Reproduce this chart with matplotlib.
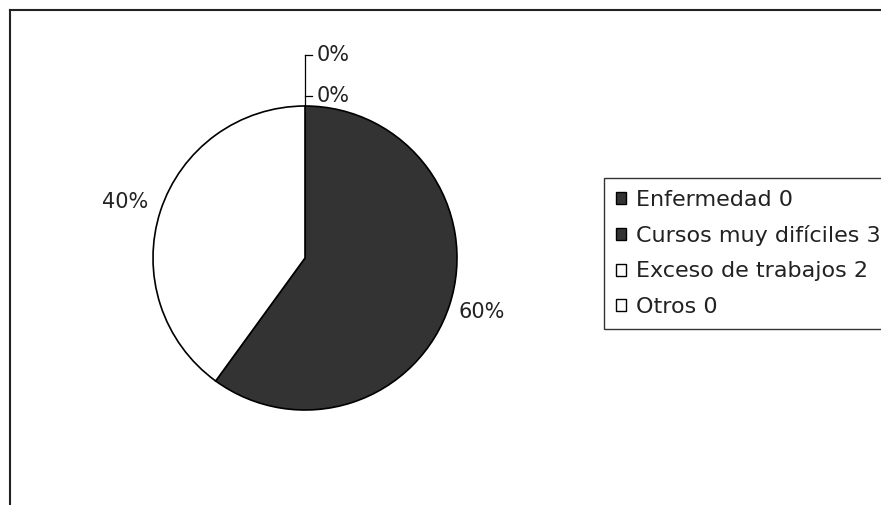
import matplotlib.pyplot as plt
from matplotlib.patches import Patch

plt.rcParams['font.family'] = ['DejaVu Sans']

categorias = ['Enfermedad', 'Cursos muy difíciles', 'Exceso de trabajos', 'Otros']
valores = [0, 3, 2, 0]
colores = ['#333333', '#333333', 'white', 'white']

total = sum(valores)
pct = [v / total * 100 for v in valores]

fig = plt.figure(figsize=(8.81, 5.05), dpi=100)
ax = fig.add_axes([0, 0, 1, 1])

# outer chart frame (only top and left visible in the scan)
ax.plot([10, 10], [0, 495], color='#222222', lw=1.5)
ax.plot([10, 881], [495, 495], color='#222222', lw=1.5)

cx, cy, r = 305, 247, 152
nz = [i for i, v in enumerate(valores) if v > 0]
ax.pie([valores[i] for i in nz], colors=[colores[i] for i in nz],
       startangle=90, counterclock=False, center=(cx, cy), radius=r,
       wedgeprops=dict(edgecolor='black', linewidth=1.2), frame=True)
ax.set_xlim(0, 881)
ax.set_ylim(0, 505)
ax.axis('off')

fs = 15
# labels for the non-zero slices
ax.text(125, 505 - 202, f"{pct[2]:.0f}%", fontsize=fs, ha='center', va='center', color='#222222')
ax.text(482, 505 - 312, f"{pct[1]:.0f}%", fontsize=fs, ha='center', va='center', color='#222222')

# leader lines for the zero slices
ax.plot([cx, cx], [505 - 107, 505 - 55], color='black', lw=0.9)
ax.plot([cx, cx + 7], [505 - 55, 505 - 55], color='black', lw=0.9)
ax.plot([cx, cx + 7], [505 - 96, 505 - 96], color='black', lw=0.9)
ax.text(cx + 12, 505 - 55, f"{pct[3]:.0f}%", fontsize=fs, ha='left', va='center', color='#222222')
ax.text(cx + 12, 505 - 96, f"{pct[0]:.0f}%", fontsize=fs, ha='left', va='center', color='#222222')

handles = [Patch(facecolor=c, edgecolor='black', linewidth=1.0) for c in colores]
labels = [f"{n} {v}" for n, v in zip(categorias, valores)]
leg = fig.legend(handles, labels, loc='upper left', bbox_to_anchor=(604 / 881, 1 - 178 / 505),
                 frameon=True, fancybox=False, fontsize=16, handlelength=0.45, handleheight=0.45,
                 handletextpad=0.45, labelspacing=0.68, borderpad=0.55, borderaxespad=0)
for t in leg.get_texts():
    t.set_color('#222222')
leg.get_frame().set_edgecolor('black')
leg.get_frame().set_linewidth(1.0)

fig.savefig('out.png', dpi=100)
